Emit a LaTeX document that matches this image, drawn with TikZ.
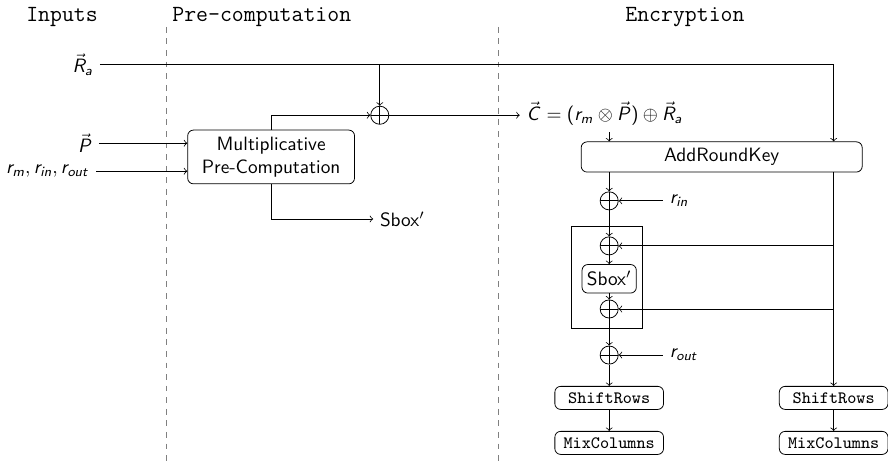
\documentclass[tikz,border=0pt]{standalone}
\usepackage{tikz}
\usetikzlibrary{calc}
\SetSymbolFont{operators}{normal}{OT1}{cmss}{m}{n}
\DeclareMathAlphabet{\msl}{OT1}{cmss}{m}{sl}

\tikzset{
  block/.style={draw, rounded corners=3pt, font=\sffamily, align=center},
  ttblock/.style={draw, rounded corners=3pt, font=\small\ttfamily, minimum width=1.98cm, minimum height=0.42cm, inner sep=1pt},
  xor/.style={draw, circle, minimum size=0.33cm, inner sep=0pt,
    path picture={\draw (path picture bounding box.north) -- (path picture bounding box.south)
      (path picture bounding box.west) -- (path picture bounding box.east);}},
  header/.style={font=\large\ttfamily},
  sep/.style={gray, dashed},
}

\begin{document}
\begin{tikzpicture}[font=\sffamily]
      \useasboundingbox (0cm,0cm) rectangle (16.18cm,-8.47cm);
      \node[header] (hin) at (1.13cm,-0.31cm) {Inputs};
      \node[header] (hpre) at (4.77cm,-0.31cm) {Pre-computation};
      \node[header] (henc) at (12.48cm,-0.31cm) {Encryption};
      \draw[sep] (3.04cm,-0.49cm) -- (3.04cm,-8.47cm);
      \draw[sep] (9.09cm,-0.49cm) -- (9.09cm,-8.47cm);

      % Inputs
      \node[anchor=east] (Ra) at (1.82cm,-1.17cm) {\(\vec{\msl{R}}_{\msl{a}}\)};
      \node[anchor=east] (P) at (1.80cm,-2.61cm) {\(\vec{\msl{P}}\)};
      \node[anchor=east] (rs) at (1.75cm,-3.12cm) {\(\msl{r}_{\msl{m}}, \msl{r}_{\msl{in}}, \msl{r}_{\msl{out}}\)};

      % Pre-computation
      \node[block, minimum width=3.04cm, minimum height=0.98cm] (mult) at (4.94cm,-2.86cm) {Multiplicative\\Pre-Computation};
      \draw[->] (P.east) -- (P.east -| mult.west);
      \draw[->] (rs.east) -- (rs.east -| mult.west);
      \node[xor] (xa) at (6.92cm,-2.10cm) {};
      \draw[->] (Ra.east -| xa) -- (xa);
      \draw[->] (mult.north) |- (xa);
      \node[anchor=west] (C) at (9.47cm,-2.07cm) {\(\vec{\msl{C}} = (\msl{r}_{\msl{m}} \otimes \vec{\msl{P}}) \oplus \vec{\msl{R}}_{\msl{a}}\)};
      \draw[->] (xa) -- (xa -| C.west);
      \node[anchor=west] (sb) at (6.80cm,-3.99cm) {Sbox\('\)};
      \draw[->] (mult.south) |- (sb.west);

      % Encryption
      \node[block, minimum width=5.12cm, minimum height=0.55cm] (ark) at (13.15cm,-2.86cm) {AddRoundKey};
      \coordinate (kcol) at (15.19cm,-1.17cm);
      \draw[->] (Ra.east) -- (kcol) -- (kcol |- ark.north);

      \node[xor] (x1) at (11.10cm,-3.66cm) {};
      \node[xor] (x2) at (11.10cm,-4.48cm) {};
      \node[block, inner xsep=2.5pt, minimum height=0.52cm] (sbox) at (11.10cm,-5.08cm) {Sbox\('\)};
      \node[xor] (x3) at (11.10cm,-5.63cm) {};
      \node[xor] (x4) at (11.10cm,-6.47cm) {};
      \node[draw, minimum width=1.28cm, minimum height=1.87cm] (frame) at (11.06cm,-5.055cm) {};
      \node[ttblock] (sr1) at (11.10cm,-7.25cm) {ShiftRows};
      \node[ttblock] (mc1) at (11.10cm,-8.07cm) {MixColumns};
      \node[ttblock] (sr2) at (15.19cm,-7.25cm) {ShiftRows};
      \node[ttblock] (mc2) at (15.19cm,-8.07cm) {MixColumns};
      \node[anchor=west] (rin) at (12.08cm,-3.66cm) {\(\msl{r}_{\msl{in}}\)};
      \node[anchor=west] (rout) at (12.08cm,-6.47cm) {\(\msl{r}_{\msl{out}}\)};

      \draw[->] (C.south -| x1) -- (ark.north -| x1);
      \draw[->] (ark.south -| x1) -- (x1);
      \draw[->] (x1) -- (x2);
      \draw[->] (x2) -- (sbox);
      \draw[->] (sbox) -- (x3);
      \draw[->] (x3) -- (x4);
      \draw[->] (x4) -- (sr1);
      \draw[->] (sr1) -- (mc1);
      \draw[->] (rin) -- (x1);
      \draw[->] (rout) -- (x4);

      \draw[->] (ark.south -| kcol) -- (sr2);
      \draw[->] (x2 -| kcol) -- (x2);
      \draw[->] (x3 -| kcol) -- (x3);
      \draw[->] (sr2) -- (mc2);
\end{tikzpicture}
\end{document}
